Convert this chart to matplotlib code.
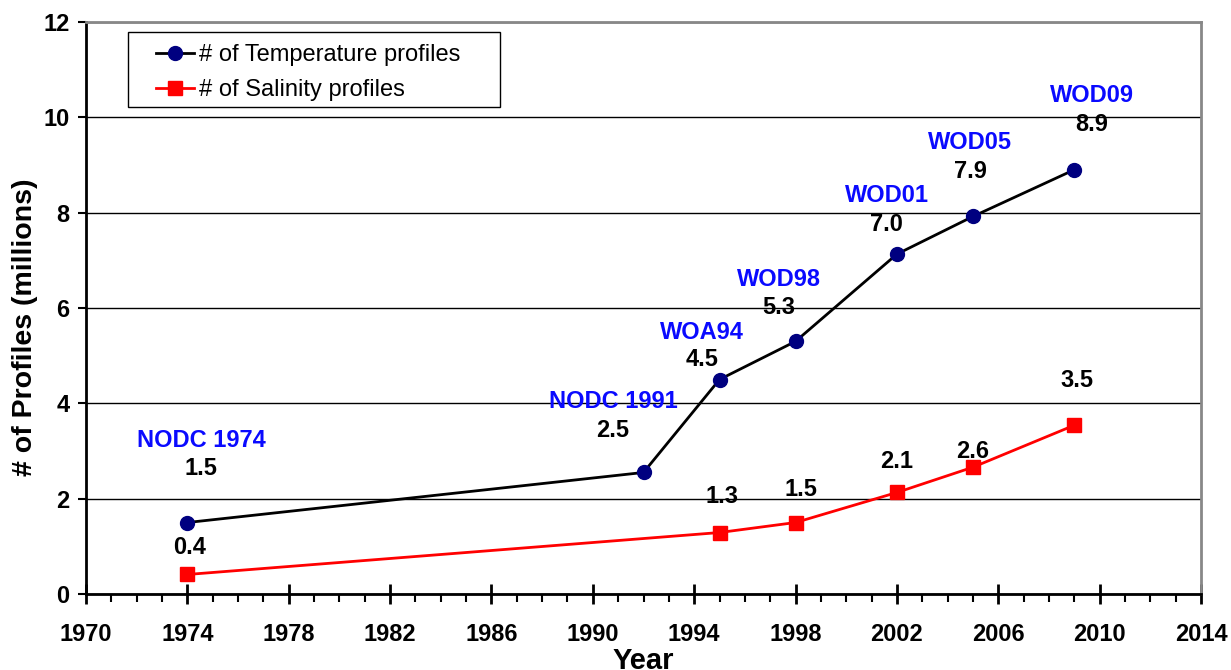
import matplotlib.pyplot as plt
from matplotlib.ticker import MultipleLocator
from matplotlib.patches import Rectangle

plt.rcParams['font.family'] = ['Liberation Sans', 'DejaVu Sans']

# data (millions of profiles)
temp_years = [1974, 1992, 1995, 1998, 2002, 2005, 2009]
temp_vals = [1.50, 2.55, 4.50, 5.30, 7.13, 7.92, 8.90]
sal_years = [1974, 1995, 1998, 2002, 2005, 2009]
sal_vals = [0.41, 1.29, 1.50, 2.13, 2.66, 3.54]

db_names = ["NODC 1974", "NODC 1991", "WOA94", "WOD98", "WOD01", "WOD05", "WOD09"]
temp_labels = ["1.5", "2.5", "4.5", "5.3", "7.0", "7.9", "8.9"]
sal_labels = ["0.4", "1.3", "1.5", "2.1", "2.6", "3.5"]
xticks = list(range(1970, 2015, 4))

# label positions (x, y) in data units
name_pos = [(1974.55, 3.23), (1990.8, 4.03), (1994.3, 5.49), (1997.35, 6.6),
            (2001.6, 8.37), (2004.9, 9.48), (2009.7, 10.45)]
tval_pos = [(1974.55, 2.64), (1990.8, 3.44), (1994.3, 4.91), (1997.35, 6.0),
            (2001.6, 7.76), (2004.9, 8.87), (2009.7, 9.84)]
sval_pos = [(1974.1, 0.97), (1995.1, 2.04), (1998.2, 2.2), (2002.0, 2.79),
            (2005.0, 3.0), (2009.1, 4.48)]

fig = plt.figure(figsize=(12.31, 6.70), dpi=100)
ax = fig.add_axes([0.0699, 0.1134, 0.9057, 0.8538])

ax.plot(temp_years, temp_vals, color='black', lw=2, marker='o', ms=10,
        mfc='#000080', mec='#000080', label='# of Temperature profiles', zorder=3)
ax.plot(sal_years, sal_vals, color='red', lw=2, marker='s', ms=10,
        mfc='red', mec='red', label='# of Salinity profiles', zorder=3)

for n, (x, y) in zip(db_names, name_pos):
    ax.text(x, y, n, color='#0a0aff', fontsize=17, fontweight='bold', ha='center', va='center')
for t, (x, y) in zip(temp_labels, tval_pos):
    ax.text(x, y, t, color='black', fontsize=17, fontweight='bold', ha='center', va='center')
for t, (x, y) in zip(sal_labels, sval_pos):
    ax.text(x, y, t, color='black', fontsize=17, fontweight='bold', ha='center', va='center')

ax.set_xlim(1970, 2014)
ax.set_ylim(0, 12)
ax.set_xticks(xticks)
ax.xaxis.set_minor_locator(MultipleLocator(1))
ax.yaxis.set_major_locator(MultipleLocator(2))
ax.grid(axis='y', color='black', lw=1)
ax.set_axisbelow(True)

for s in ['left', 'bottom']:
    ax.spines[s].set_linewidth(2)
for s in ['top', 'right']:
    ax.spines[s].set_color('#888888')
    ax.spines[s].set_linewidth(2)

ax.tick_params(axis='x', which='major', direction='inout', length=14, width=2, pad=14)
ax.tick_params(axis='x', which='minor', direction='out', length=6, width=1.5)
ax.tick_params(axis='y', direction='out', length=6, width=1.5, pad=6)
for lab in ax.get_xticklabels() + ax.get_yticklabels():
    lab.set_fontsize(17)
    lab.set_fontweight('bold')

ax.set_xlabel('Year', fontsize=21, fontweight='bold')
ax.xaxis.set_label_coords(0.5, -0.093)
ax.set_ylabel('# of Profiles (millions)', fontsize=20.5, fontweight='bold')
ax.yaxis.set_label_coords(-0.043, 0.467)

# legend box drawn separately so the inner padding matches
ax.add_patch(Rectangle((0.0377, 0.8514), 0.3336, 0.1311, transform=ax.transAxes,
                       facecolor='white', edgecolor='black', lw=1, zorder=4))
leg = ax.legend(loc='upper left', bbox_to_anchor=(0.0628, 0.9615),
                borderaxespad=0, borderpad=0, fontsize=17, frameon=False,
                handlelength=1.6, handletextpad=0.2, labelspacing=0.55)
leg.set_zorder(5)

fig.savefig('out.png', dpi=100)
